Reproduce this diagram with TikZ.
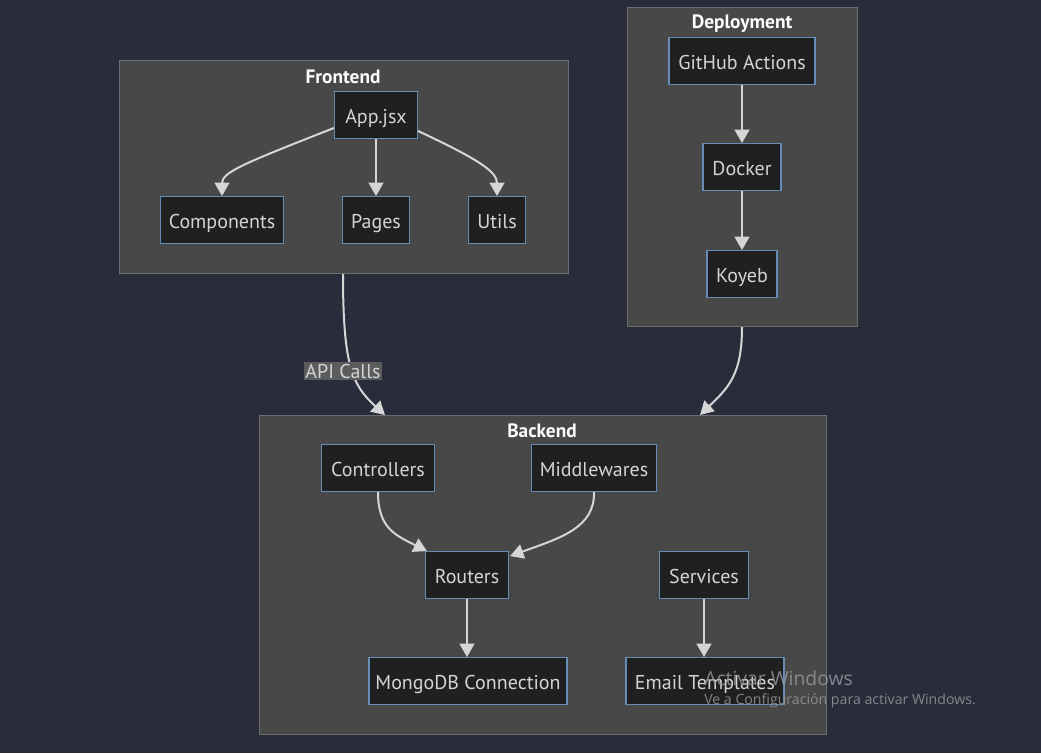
\documentclass[tikz,border=0pt]{standalone}
\usepackage{fontspec}
\setmainfont{PT Sans}
\newfontfamily\wmfont{Open Sans}
\usetikzlibrary{arrows.meta,calc}
\definecolor{bgc}{RGB}{41,45,59}
\definecolor{clfill}{RGB}{72,72,72}
\definecolor{cldraw}{RGB}{110,110,112}
\definecolor{ndfill}{RGB}{31,32,32}
\definecolor{nddraw}{RGB}{100,140,180}
\definecolor{ndtext}{RGB}{212,212,212}
\definecolor{edgec}{RGB}{214,214,214}
\definecolor{lblfill}{RGB}{92,92,92}
\definecolor{wmc}{RGB}{150,150,154}
\tikzset{
  cluster/.style={draw=cldraw, fill=clfill, line width=0.9pt, inner sep=0pt, anchor=north west},
  cltitle/.style={text=white, font=\fontsize{14.5}{16}\selectfont\bfseries},
  box/.style={draw=nddraw, fill=ndfill, line width=0.9pt, inner sep=0pt, text=ndtext,
              font=\fontsize{15}{17}\selectfont, minimum height=35pt, text height=14pt, text depth=2pt},
  edge/.style={draw=edgec, line width=1.5pt, -{Triangle[length=10pt,width=11pt]}},
  lbl/.style={fill=lblfill, text=ndtext, inner xsep=1pt, inner ysep=1.5pt, font=\fontsize{15}{17}\selectfont}
}
\begin{document}
\begin{tikzpicture}[x=0.75pt,y=-0.75pt]
\fill[bgc] (0,0) rectangle (1041,753);
\useasboundingbox (0,0) rectangle (1041,753);
% clusters
\node[cluster, minimum width=449*0.75pt, minimum height=213*0.75pt] (frontend) at (119,60) {};
\node[cluster, minimum width=230*0.75pt, minimum height=319*0.75pt] (deployment) at (627,7) {};
\node[cluster, minimum width=567*0.75pt, minimum height=319*0.75pt] (backend) at (259,415) {};
\node[cltitle] (tfront) at (343,77) {Frontend};
\node[cltitle] (tdep) at (742,24) {Deployment};
\node[cltitle] (tback) at (542,431) {Backend};
% frontend nodes
\node[box, minimum width=83*0.75pt] (app) at (376,115) {App.jsx};
\node[box, minimum width=123*0.75pt] (comp) at (222,220) {Components};
\node[box, minimum width=67*0.75pt] (pages) at (376,220) {Pages};
\node[box, minimum width=57*0.75pt] (utils) at (497,220) {Utils};
% deployment nodes
\node[box, minimum width=146*0.75pt] (gha) at (742,61) {GitHub Actions};
\node[box, minimum width=78*0.75pt] (docker) at (742,167) {Docker};
\node[box, minimum width=70*0.75pt] (koyeb) at (742,274) {Koyeb};
% backend nodes
\node[box, minimum width=113*0.75pt] (ctrl) at (378,468) {Controllers};
\node[box, minimum width=125*0.75pt] (mid) at (594,468) {Middlewares};
\node[box, minimum width=83*0.75pt] (rout) at (467,575) {Routers};
\node[box, minimum width=89*0.75pt] (serv) at (704,575) {Services};
\node[box, minimum width=198*0.75pt] (mongo) at (468,681) {MongoDB Connection};
\node[box, minimum width=158*0.75pt] (email) at (705,681) {Email Templates};
% edges
\draw[edge] ($(app.west)+(0,13)$) .. controls (245,163) and (222,172) .. (comp.north);
\draw[edge] (app.south) -- (pages.north);
\draw[edge] ($(app.east)+(0,16)$) .. controls (480,160) and (497,172) .. (utils.north);
\draw[edge] (gha.south) -- (docker.north);
\draw[edge] (docker.south) -- (koyeb.north);
\draw[edge] (ctrl.south) .. controls (378,528) and (395,535) .. ($(rout.north west)+(2,0)$);
\draw[edge] (mid.south) .. controls (595,528) and (560,538) .. ($(rout.north east)+(1,5)$);
\draw[edge] (rout.south) -- ($(mongo.north)+(-1,0)$);
\draw[edge] (serv.south) -- ($(email.north)+(-1,0)$);
\draw[edge] ($(frontend.south west)+(224,0)$) .. controls (343,365) and (352,385) .. ($(backend.north west)+(126,0)$);
\draw[edge] ($(deployment.south west)+(115,0)$) .. controls (742,375) and (728,388) .. ($(backend.north west)+(441,0)$);
\node[lbl] (api) at (343,371) {API Calls};
% watermark
\node[text=wmc, opacity=0.85, font=\wmfont\fontsize{14.5}{16}\selectfont, anchor=west, inner sep=0pt] (wm1) at (704,678) {Activar Windows};
\node[text=wmc, opacity=0.85, font=\wmfont\fontsize{10.6}{12}\selectfont, anchor=west, inner sep=0pt] (wm2) at (704,701) {Ve a Configuración para activar Windows.};
\end{tikzpicture}
\end{document}
